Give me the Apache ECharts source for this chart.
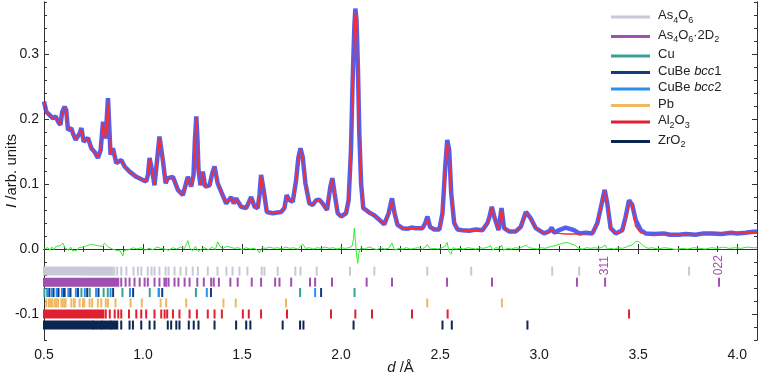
<!DOCTYPE html>
<html>
<head>
<meta charset="utf-8">
<script src="https://cdn.jsdelivr.net/npm/echarts@6/dist/echarts.min.js"></script>
<style>
html, body { margin: 0; padding: 0; background: #fff; }
#chart { width: 759px; height: 376px; }
</style>
</head>
<body>
<div id="chart"></div>
<script>
const observed = [
  [0.500,0.227],[0.512,0.211],[0.529,0.206],[0.545,0.201],[0.559,0.204],[0.571,0.196],[0.583,0.191],[0.592,0.211],[0.604,0.219],[0.612,0.214],
  [0.621,0.183],[0.638,0.186],[0.646,0.178],[0.660,0.168],[0.670,0.171],[0.680,0.178],[0.689,0.186],[0.700,0.165],[0.710,0.163],[0.722,0.171],
  [0.739,0.155],[0.756,0.149],[0.772,0.140],[0.786,0.152],[0.798,0.196],[0.811,0.170],[0.823,0.232],[0.836,0.145],[0.848,0.155],[0.865,0.132],
  [0.890,0.137],[0.907,0.127],[0.932,0.119],[0.966,0.111],[0.999,0.106],[1.016,0.104],[1.025,0.114],[1.033,0.140],[1.047,0.119],[1.058,0.098],
  [1.071,0.137],[1.083,0.173],[1.100,0.137],[1.114,0.101],[1.125,0.109],[1.151,0.111],[1.176,0.091],[1.201,0.083],[1.226,0.111],[1.243,0.096],
  [1.255,0.114],[1.262,0.168],[1.269,0.204],[1.275,0.168],[1.280,0.122],[1.290,0.098],[1.302,0.119],[1.314,0.096],[1.336,0.098],[1.351,0.118],
  [1.361,0.127],[1.377,0.101],[1.395,0.088],[1.420,0.070],[1.445,0.080],[1.458,0.070],[1.470,0.078],[1.495,0.065],[1.521,0.063],[1.546,0.080],
  [1.563,0.065],[1.579,0.063],[1.588,0.083],[1.596,0.114],[1.609,0.091],[1.625,0.057],[1.655,0.055],[1.697,0.057],[1.714,0.063],[1.725,0.083],
  [1.739,0.075],[1.756,0.073],[1.773,0.106],[1.784,0.140],[1.795,0.155],[1.806,0.142],[1.820,0.101],[1.840,0.070],[1.857,0.068],[1.874,0.075],
  [1.890,0.076],[1.907,0.070],[1.929,0.060],[1.946,0.096],[1.956,0.109],[1.967,0.086],[1.983,0.055],[2.000,0.050],[2.025,0.055],[2.038,0.075],
  [2.050,0.152],[2.058,0.255],[2.067,0.342],[2.072,0.370],[2.078,0.352],[2.085,0.280],[2.092,0.178],[2.101,0.101],[2.112,0.063],[2.126,0.060],
  [2.142,0.056],[2.167,0.052],[2.193,0.045],[2.218,0.038],[2.240,0.055],[2.257,0.078],[2.270,0.055],[2.285,0.037],[2.310,0.032],[2.335,0.031],
  [2.355,0.033],[2.378,0.032],[2.411,0.032],[2.425,0.040],[2.436,0.050],[2.449,0.034],[2.470,0.030],[2.496,0.030],[2.512,0.055],[2.526,0.127],
  [2.536,0.168],[2.546,0.152],[2.556,0.086],[2.571,0.040],[2.588,0.030],[2.612,0.029],[2.647,0.028],[2.680,0.030],[2.714,0.029],[2.739,0.040],
  [2.748,0.048],[2.761,0.065],[2.775,0.048],[2.795,0.029],[2.810,0.063],[2.823,0.032],[2.848,0.027],[2.882,0.027],[2.907,0.034],[2.933,0.057],
  [2.958,0.047],[2.983,0.032],[3.025,0.024],[3.050,0.027],[3.064,0.033],[3.075,0.025],[3.100,0.029],[3.134,0.033],[3.176,0.029],[3.202,0.024],
  [3.235,0.025],[3.269,0.024],[3.294,0.040],[3.316,0.070],[3.331,0.091],[3.344,0.070],[3.361,0.032],[3.387,0.024],[3.420,0.029],[3.437,0.050],
  [3.454,0.075],[3.462,0.078],[3.470,0.068],[3.487,0.045],[3.513,0.029],[3.538,0.024],[3.580,0.023],[3.630,0.024],[3.660,0.022],[3.706,0.022],
  [3.740,0.023],[3.790,0.022],[3.830,0.024],[3.874,0.024],[3.920,0.023],[3.970,0.025],[4.000,0.024],[4.042,0.025],[4.070,0.026],[4.100,0.027]
];

// calculated profile [d, I]
const calculated = [
  [0.500,0.226],[0.512,0.211],[0.529,0.206],[0.545,0.201],[0.559,0.203],[0.571,0.196],[0.583,0.192],[0.592,0.209],[0.604,0.217],[0.612,0.212],
  [0.621,0.184],[0.638,0.185],[0.646,0.178],[0.660,0.169],[0.670,0.171],[0.680,0.178],[0.689,0.184],[0.700,0.166],[0.710,0.163],[0.722,0.170],
  [0.739,0.155],[0.756,0.149],[0.772,0.141],[0.786,0.152],[0.798,0.193],[0.811,0.170],[0.823,0.226],[0.836,0.146],[0.848,0.154],[0.865,0.133],
  [0.890,0.136],[0.907,0.127],[0.932,0.119],[0.966,0.111],[0.999,0.106],[1.016,0.104],[1.025,0.114],[1.033,0.139],[1.047,0.119],[1.058,0.099],
  [1.071,0.136],[1.083,0.171],[1.100,0.137],[1.114,0.102],[1.125,0.109],[1.151,0.110],[1.176,0.091],[1.201,0.084],[1.226,0.109],[1.243,0.096],
  [1.255,0.114],[1.262,0.167],[1.269,0.202],[1.275,0.167],[1.280,0.122],[1.290,0.099],[1.302,0.118],[1.314,0.096],[1.336,0.098],[1.351,0.117],
  [1.361,0.126],[1.377,0.101],[1.395,0.088],[1.420,0.070],[1.445,0.079],[1.458,0.070],[1.470,0.077],[1.495,0.065],[1.521,0.063],[1.546,0.079],
  [1.563,0.065],[1.579,0.063],[1.588,0.084],[1.596,0.113],[1.609,0.091],[1.625,0.058],[1.655,0.055],[1.697,0.057],[1.714,0.063],[1.725,0.082],
  [1.739,0.075],[1.756,0.073],[1.773,0.105],[1.784,0.139],[1.795,0.153],[1.806,0.141],[1.820,0.101],[1.840,0.070],[1.857,0.068],[1.874,0.074],
  [1.890,0.075],[1.907,0.070],[1.929,0.060],[1.946,0.095],[1.956,0.108],[1.967,0.086],[1.983,0.055],[2.000,0.050],[2.025,0.055],[2.038,0.074],
  [2.050,0.150],[2.058,0.250],[2.067,0.338],[2.072,0.366],[2.078,0.352],[2.085,0.283],[2.092,0.180],[2.101,0.101],[2.112,0.063],[2.126,0.060],
  [2.142,0.056],[2.167,0.052],[2.193,0.045],[2.218,0.038],[2.240,0.054],[2.257,0.074],[2.270,0.055],[2.285,0.037],[2.310,0.032],[2.378,0.032],
  [2.411,0.032],[2.425,0.039],[2.436,0.046],[2.449,0.034],[2.470,0.030],[2.496,0.030],[2.512,0.053],[2.526,0.125],[2.536,0.162],[2.546,0.150],
  [2.556,0.088],[2.571,0.040],[2.588,0.030],[2.647,0.028],[2.714,0.029],[2.739,0.040],[2.748,0.048],[2.761,0.064],[2.775,0.048],[2.795,0.029],
  [2.810,0.061],[2.823,0.032],[2.848,0.027],[2.882,0.027],[2.907,0.034],[2.933,0.056],[2.958,0.047],[2.983,0.032],[3.025,0.024],[3.050,0.026],
  [3.064,0.030],[3.075,0.024],[3.100,0.024],[3.134,0.023],[3.176,0.023],[3.202,0.023],[3.269,0.024],[3.294,0.040],[3.316,0.071],[3.331,0.090],
  [3.344,0.071],[3.361,0.032],[3.387,0.024],[3.420,0.027],[3.437,0.046],[3.454,0.068],[3.462,0.072],[3.470,0.068],[3.487,0.035],[3.513,0.025],
  [3.538,0.024],[3.706,0.023],[3.874,0.024],[4.042,0.025],[4.100,0.026]
];

// difference curve (obs - calc) [d, value]
const difference = [
  [0.500,0.000],[0.510,-0.003],[0.520,0.002],[0.530,-0.002],[0.540,0.003],[0.550,-0.001],[0.560,0.004],[0.570,0.001],[0.580,0.005],[0.590,0.003],
  [0.596,0.009],[0.605,0.002],[0.615,0.004],[0.625,-0.002],[0.635,0.003],[0.645,-0.003],[0.655,0.000],[0.665,-0.002],[0.675,0.002],[0.685,0.001],
  [0.695,0.003],[0.705,0.002],[0.715,0.005],[0.725,0.004],[0.735,0.007],[0.745,0.004],[0.755,0.006],[0.765,0.008],[0.775,0.005],[0.785,0.007],
  [0.795,0.004],[0.805,0.009],[0.815,0.010],[0.825,0.003],[0.835,0.006],[0.845,0.000],[0.855,0.003],[0.865,-0.002],[0.875,0.001],[0.885,-0.003],
  [0.898,-0.011],[0.905,-0.002],[0.915,0.001],[0.930,-0.001],[0.950,0.002],[0.970,0.000],[0.990,0.002],[1.010,-0.002],[1.030,0.001],[1.050,-0.001],
  [1.070,0.003],[1.090,0.001],[1.110,0.000],[1.130,-0.002],[1.150,0.002],[1.170,0.000],[1.190,0.003],[1.210,0.001],[1.226,0.013],[1.235,0.002],
  [1.250,-0.003],[1.265,0.004],[1.280,-0.004],[1.295,0.000],[1.310,0.002],[1.330,-0.001],[1.350,0.003],[1.365,-0.001],[1.377,0.011],[1.390,0.003],
  [1.405,0.001],[1.420,0.004],[1.440,0.003],[1.460,0.001],[1.480,0.002],[1.500,-0.001],[1.520,0.002],[1.540,0.000],[1.560,0.001],[1.575,-0.001],
  [1.588,-0.006],[1.600,0.002],[1.620,0.001],[1.640,0.003],[1.660,0.001],[1.680,0.002],[1.700,0.000],[1.720,0.003],[1.740,0.001],[1.760,0.002],
  [1.780,0.000],[1.795,0.004],[1.806,0.008],[1.820,0.001],[1.840,0.002],[1.860,0.000],[1.880,0.002],[1.900,0.001],[1.920,0.003],[1.940,0.001],
  [1.960,0.002],[1.980,0.000],[2.000,0.002],[2.020,0.001],[2.040,0.002],[2.055,0.004],[2.062,0.015],[2.067,0.032],[2.073,0.010],[2.079,-0.010],
  [2.084,-0.022],[2.090,-0.006],[2.100,0.002],[2.120,0.000],[2.140,0.003],[2.160,0.001],[2.180,-0.001],[2.200,0.002],[2.220,0.000],[2.240,0.001],
  [2.257,0.009],[2.270,-0.002],[2.290,0.001],[2.310,0.000],[2.330,0.002],[2.350,0.000],[2.370,0.001],[2.390,0.002],[2.410,0.000],[2.425,0.003],
  [2.436,0.007],[2.450,0.000],[2.470,0.001],[2.490,0.000],[2.510,0.002],[2.525,0.004],[2.536,0.010],[2.545,-0.004],[2.555,-0.008],[2.565,0.002],
  [2.580,0.000],[2.600,0.001],[2.620,0.000],[2.640,0.002],[2.660,0.001],[2.680,0.000],[2.700,0.002],[2.720,0.001],[2.740,0.003],[2.755,0.005],
  [2.765,-0.002],[2.780,0.002],[2.800,0.001],[2.810,0.006],[2.820,-0.002],[2.840,0.001],[2.860,0.000],[2.880,0.002],[2.900,0.001],[2.920,0.004],
  [2.935,0.006],[2.950,0.002],[2.970,0.001],[2.990,0.000],[3.010,0.002],[3.030,0.001],[3.050,0.003],[3.064,0.004],[3.080,0.005],[3.100,0.007],
  [3.120,0.009],[3.140,0.010],[3.160,0.008],[3.180,0.006],[3.200,0.001],[3.220,0.000],[3.240,0.002],[3.260,0.001],[3.280,0.002],[3.300,0.001],
  [3.320,0.003],[3.333,0.006],[3.345,0.000],[3.360,0.001],[3.380,0.000],[3.400,0.002],[3.420,0.001],[3.440,0.003],[3.455,0.005],[3.470,0.006],
  [3.485,0.011],[3.500,0.012],[3.515,0.008],[3.530,0.004],[3.550,0.001],[3.570,0.002],[3.600,0.000],[3.630,0.002],[3.660,0.001],[3.690,-0.001],
  [3.720,0.001],[3.750,0.000],[3.780,0.002],[3.810,0.001],[3.840,0.000],[3.870,0.002],[3.900,0.001],[3.930,0.003],[3.960,0.001],[3.990,0.002],
  [4.020,0.001],[4.050,0.003],[4.080,0.002],[4.100,0.002]
];

// reflection markers: d positions, plus ranges where the ticks merge into a solid band
const as4o6Ticks = [0.855,0.870,0.890,0.916,0.952,0.974,0.991,1.024,1.043,1.058,1.083,1.114,1.129,1.159,1.189,1.218,1.251,1.277,1.327,1.376,
  1.421,1.452,1.487,1.527,1.599,1.613,1.680,1.769,1.795,1.877,2.045,2.168,2.435,2.657,3.066,3.202,3.757];
const as4o6Bands = [[0.5, 0.71], [0.715, 0.845]];
const as4o6D2Ticks = [0.890,0.912,0.932,0.957,0.983,1.008,1.024,1.058,1.083,1.108,1.117,1.129,1.159,1.179,1.210,1.235,1.274,1.307,1.344,1.357,
  1.383,1.441,1.478,1.549,1.596,1.667,1.689,1.748,1.843,1.869,1.954,2.129,2.257,2.535,2.762,3.191,3.333,3.908];
const as4o6D2Bands = [[0.5, 0.875]];
const cuTicks = [0.502,0.517,0.540,0.546,0.566,0.597,0.606,0.633,0.689,0.731,0.801,0.822,0.896,1.034,1.080,1.267,1.793,2.068];
const cuBe1Ticks = [0.527,0.548,0.573,0.601,0.633,0.672,0.718,0.775,0.849,0.950,1.097,1.343,1.899];
const cuBe2Ticks = [0.518,0.540,0.564,0.591,0.623,0.661,0.706,0.763,0.836,0.934,1.079,1.322,1.869];
const pbTicks = [0.512,0.525,0.534,0.542,0.554,0.562,0.571,0.588,0.595,0.604,0.609,0.638,0.651,0.655,0.680,0.697,0.703,0.730,0.743,0.772,
  0.789,0.812,0.823,0.861,0.937,0.994,1.089,1.117,1.218,1.406,1.468,1.722,2.435,2.812];
const al2o3Ticks = [0.812,0.832,0.857,0.875,0.890,0.929,0.966,0.991,1.016,1.058,1.092,1.109,1.122,1.151,1.184,1.235,1.272,1.327,1.361,1.398,
  1.504,1.534,1.596,1.727,1.949,2.072,2.156,2.358,2.538,3.454];
const al2o3Bands = [[0.5, 0.80]];
const zro2Ticks = [0.890,0.932,0.949,0.991,1.033,1.058,1.125,1.142,1.168,1.184,1.231,1.256,1.280,1.361,1.470,1.521,1.542,1.705,1.793,1.810,
  2.063,2.512,2.559,2.941];
const zro2Bands = [[0.5, 0.745], [0.75, 0.79], [0.795, 0.835], [0.84, 0.87]];

const hklPos = [3.333, 3.908];
const hklText = ['311', '022'];

const xMajor = [0.5, 1.0, 1.5, 2.0, 2.5, 3.0, 3.5, 4.0];
const xMinor = [0.6,0.7,0.8,0.9,1.1,1.2,1.3,1.4,1.6,1.7,1.8,1.9,2.1,2.2,2.3,2.4,2.6,2.7,2.8,2.9,3.1,3.2,3.3,3.4,3.6,3.7,3.8,3.9,4.1];
const yMajor = [-0.1, 0.0, 0.1, 0.2, 0.3];
const yMinor = [-0.14,-0.12,-0.08,-0.06,-0.04,-0.02,0.02,0.04,0.06,0.08,0.12,0.14,0.16,0.18,0.22,0.24,0.26,0.28,0.32,0.34,0.36,0.38];

const font = '"Liberation Sans", Arial, sans-serif';
const axisColor = '#333';

// row heights (in I units) of the marker rows
const rows = { as4o6: -0.034, as4o6D2: -0.051, cu: -0.067, pb: -0.083, al: -0.100, zr: -0.117 };

function markerSeries (name, color, rowY, ticks, bands) {
  const data = (bands || []).map(b => [b[0], b[1]]).concat(ticks.map(t => [t, t]));
  return {
    name: name,
    type: 'custom',
    xAxisIndex: 0,
    yAxisIndex: 0,
    itemStyle: { color: color },
    data: data,
    renderItem: function (params, api) {
      const a = api.coord([api.value(0), rowY]);
      const b = api.coord([api.value(1), rowY]);
      return {
        type: 'rect',
        shape: { x: a[0] - 1, y: a[1] - 4.5, width: b[0] - a[0] + 2, height: 9 },
        style: { fill: color }
      };
    }
  };
}

const legendLabels = {
  'As4O6': '{n|As}{s|4}{n|O}{s|6}',
  'As4O6·2D2': '{n|As}{s|4}{n|O}{s|6}{n|·2D}{s|2}',
  'Cu': '{n|Cu}',
  'CuBe bcc1': '{n|CuBe }{i|bcc}{n|1}',
  'CuBe bcc2': '{n|CuBe }{i|bcc}{n|2}',
  'Pb': '{n|Pb}',
  'Al2O3': '{n|Al}{s|2}{n|O}{s|3}',
  'ZrO2': '{n|ZrO}{s|2}'
};

function xAxisBase (pos, ticks, len, labels) {
  return {
    type: 'value', position: pos, min: 0.5, max: 4.1,
    axisLine: { show: true, lineStyle: { color: axisColor, width: 1 } },
    axisTick: { show: true, inside: true, length: len, customValues: ticks, lineStyle: { color: axisColor } },
    axisLabel: labels
      ? { show: true, customValues: xMajor, formatter: v => v.toFixed(1), fontSize: 14, color: '#1a1a1a', fontFamily: font, margin: 8 }
      : { show: false },
    splitLine: { show: false }
  };
}

function yAxisBase (pos, ticks, len, labels) {
  return {
    type: 'value', position: pos, min: -0.14, max: 0.38,
    axisLine: { show: true, onZero: false, lineStyle: { color: axisColor, width: 1 } },
    axisTick: { show: true, inside: true, length: len, customValues: ticks, lineStyle: { color: axisColor } },
    axisLabel: labels
      ? { show: true, customValues: yMajor, formatter: v => v.toFixed(1), fontSize: 14, color: '#1a1a1a', fontFamily: font, margin: 5 }
      : { show: false },
    splitLine: { show: false }
  };
}

const xBottom = xAxisBase('bottom', xMajor, 5, true);
xBottom.name = '{i|d} /Å';
xBottom.nameLocation = 'middle';
xBottom.nameGap = 20;
xBottom.nameMoveOverlap = false;
xBottom.nameTextStyle = { fontSize: 15, color: '#1a1a1a', fontFamily: font, rich: { i: { fontStyle: 'italic', fontSize: 15, fontFamily: font } } };

const yLeft = yAxisBase('left', yMajor, 5, true);
yLeft.name = '{i|I} /arb. units';
yLeft.nameLocation = 'middle';
yLeft.nameGap = 25;
yLeft.nameMoveOverlap = false;
yLeft.nameTextStyle = { fontSize: 15, color: '#1a1a1a', fontFamily: font, rich: { i: { fontStyle: 'italic', fontSize: 15, fontFamily: font } } };

const myChart = echarts.init(document.getElementById('chart'), null, { renderer: 'canvas' });
myChart.setOption({
  animation: false,
  backgroundColor: '#fff',
  grid: { left: 44, right: 2, top: 2, bottom: 36, outerBoundsMode: 'none', containLabel: false },
  legend: {
    orient: 'vertical',
    left: 606,
    top: 4,
    itemWidth: 39,
    itemHeight: 3,
    itemGap: 3.5,
    icon: 'rect',
    data: ['As4O6', 'As4O6·2D2', 'Cu', 'CuBe bcc1', 'CuBe bcc2', 'Pb', 'Al2O3', 'ZrO2'],
    formatter: name => legendLabels[name],
    textStyle: {
      fontFamily: font,
      fontSize: 13,
      color: '#222',
      padding: [0, 0, 0, 3],
      rich: {
        n: { fontSize: 13, fontFamily: font, color: '#222', verticalAlign: 'top', lineHeight: 16 },
        i: { fontSize: 13, fontFamily: font, color: '#222', fontStyle: 'italic', verticalAlign: 'top', lineHeight: 16 },
        s: { fontSize: 9, fontFamily: font, color: '#222', verticalAlign: 'top', lineHeight: 10, padding: [7, 0, 0, 0] }
      }
    }
  },
  xAxis: [
    xBottom,
    xAxisBase('bottom', xMinor, 3, false),
    xAxisBase('top', xMajor, 5, false),
    xAxisBase('top', xMinor, 3, false)
  ],
  yAxis: [
    yLeft,
    yAxisBase('left', yMinor, 3, false),
    yAxisBase('right', yMajor, 5, false),
    yAxisBase('right', yMinor, 3, false)
  ],
  series: [
    {
      name: 'obs', type: 'line', data: observed, showSymbol: false, smooth: false,
      lineStyle: { width: 4.5, color: '#3344ee', opacity: 0.85 }, z: 2
    },
    {
      name: 'calc', type: 'line', data: calculated, showSymbol: false, smooth: false,
      lineStyle: { width: 1.4, color: '#ff2a2a' }, z: 3
    },
    {
      name: 'diff', type: 'line', data: difference, showSymbol: false, smooth: false,
      lineStyle: { width: 1, color: '#2ef02e' }, z: 2
    },
    markerSeries('As4O6', '#c8c9d8', rows.as4o6, as4o6Ticks, as4o6Bands),
    markerSeries('As4O6·2D2', '#a050b0', rows.as4o6D2, as4o6D2Ticks, as4o6D2Bands),
    markerSeries('Cu', '#3aa096', rows.cu, cuTicks),
    markerSeries('CuBe bcc1', '#123c80', rows.cu, cuBe1Ticks),
    markerSeries('CuBe bcc2', '#2a90f0', rows.cu, cuBe2Ticks),
    markerSeries('Pb', '#f0b860', rows.pb, pbTicks),
    markerSeries('Al2O3', '#e02030', rows.al, al2o3Ticks, al2o3Bands),
    markerSeries('ZrO2', '#0c2652', rows.zr, zro2Ticks, zro2Bands),
    {
      name: 'hkl', type: 'custom', xAxisIndex: 0, yAxisIndex: 0,
      data: hklPos,
      renderItem: function (params, api) {
        const p = api.coord([api.value(0), rows.as4o6D2]);
        return {
          type: 'text',
          x: p[0],
          y: p[1] - 7,
          rotation: Math.PI / 2,
          style: { text: hklText[params.dataIndex], fill: '#a050b0', font: '12px ' + font, align: 'left', verticalAlign: 'middle' }
        };
      }
    }
  ]
});
window.addEventListener('resize', () => {
  myChart.resize()
})
</script>
</body>
</html>
